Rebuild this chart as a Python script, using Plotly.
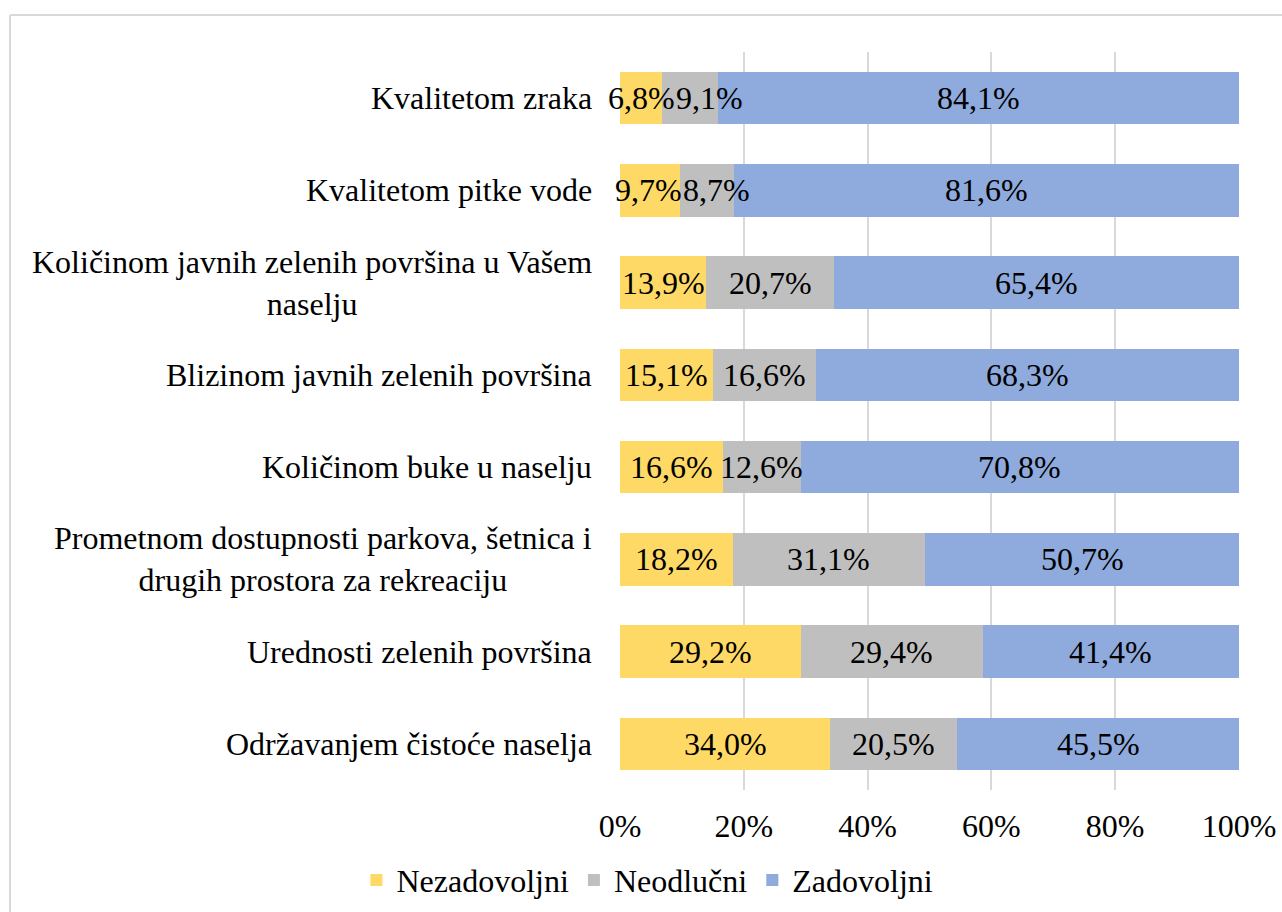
import plotly.graph_objects as go

categories = [
    "Kvalitetom zraka",
    "Kvalitetom pitke vode",
    "Količinom javnih zelenih površina u Vašem<br>naselju",
    "Blizinom javnih zelenih površina",
    "Količinom buke u naselju",
    "Prometnom dostupnosti parkova, šetnica i<br>drugih prostora za rekreaciju",
    "Urednosti zelenih površina",
    "Održavanjem čistoće naselja",
]
nezadovoljni = [6.8, 9.7, 13.9, 15.1, 16.6, 18.2, 29.2, 34.0]
neodlucni = [9.1, 8.7, 20.7, 16.6, 12.6, 31.1, 29.4, 20.5]
zadovoljni = [84.1, 81.6, 65.4, 68.3, 70.8, 50.7, 41.4, 45.5]
series_names = ["Nezadovoljni", "Neodlučni", "Zadovoljni"]
colors = ["#FFD966", "#BFBFBF", "#8FAADC"]
x_ticks = [0, 20, 40, 60, 80, 100]
x_ticklabels = ["0%", "20%", "40%", "60%", "80%", "100%"]

# label nudges (pixels) used where labels would collide, like the original
label_shift = {(1, 0): 19, (1, 1): 10, (0, 1): -2}

FONT = "Liberation Serif"
FS = 32
ids = list(range(len(categories)))
series = [nezadovoljni, neodlucni, zadovoljni]

fig = go.Figure()
for name, vals, col in zip(series_names, series, colors):
    fig.add_trace(go.Bar(
        y=ids, x=vals, name=name, orientation="h",
        marker=dict(color=col, line=dict(width=0)),
        hoverinfo="skip",
    ))

# data labels, centred on each segment via the x axis
for i in ids:
    start = 0.0
    for s, vals in enumerate(series):
        v = vals[i]
        fig.add_annotation(
            x=start + v / 2, xref="x", y=i, yref="y",
            text=f"{v:.1f}%".replace(".", ","), showarrow=False,
            xanchor="center", yanchor="middle",
            xshift=label_shift.get((s, i), 0),
            font=dict(family=FONT, size=FS, color="black"),
        )
        start += v

for i, c in zip(ids, categories):
    fig.add_annotation(
        x=0, xref="paper", y=i, yref="y", text=c, showarrow=False,
        xanchor="right", yanchor="middle", align="center", xshift=-26,
        font=dict(family=FONT, size=FS, color="black"),
    )

fig.update_layout(
    barmode="stack", bargap=0.43,
    width=1282, height=912,
    margin=dict(l=620, r=43, t=52, b=122, autoexpand=False),
    paper_bgcolor="white", plot_bgcolor="white",
    font=dict(family=FONT, size=FS, color="black"),
    legend=dict(orientation="h", xref="container", x=0.505, xanchor="center",
                yref="container", y=0.035, yanchor="middle",
                font=dict(family=FONT, size=FS), traceorder="normal",
                itemwidth=30),
    xaxis=dict(range=[0, 100], tickvals=x_ticks, ticktext=x_ticklabels,
               showgrid=True, gridcolor="#D9D9D9", gridwidth=2,
               zeroline=False, showline=False, ticks="",
               ticklabelstandoff=14, automargin=False,
               tickfont=dict(family=FONT, size=FS)),
    yaxis=dict(range=[len(categories) - 0.5, -0.5], showticklabels=False,
               showgrid=False, zeroline=False, ticks="", showline=False,
               automargin=False),
    showlegend=True,
)

fig.add_shape(type="line", xref="paper", yref="paper",
              x0=(10 - 620) / 619, x1=(1290 - 620) / 619,
              y0=(790 - 15) / 738, y1=(790 - 15) / 738,
              line=dict(color="#D9D9D9", width=2))
fig.add_shape(type="line", xref="paper", yref="paper",
              x0=(10 - 620) / 619, x1=(10 - 620) / 619,
              y0=(790 - 15) / 738, y1=(790 - 920) / 738,
              line=dict(color="#D9D9D9", width=2))

fig.write_html("out.html", config={"displayModeBar": False},
               post_script="document.body.style.margin='0';")
